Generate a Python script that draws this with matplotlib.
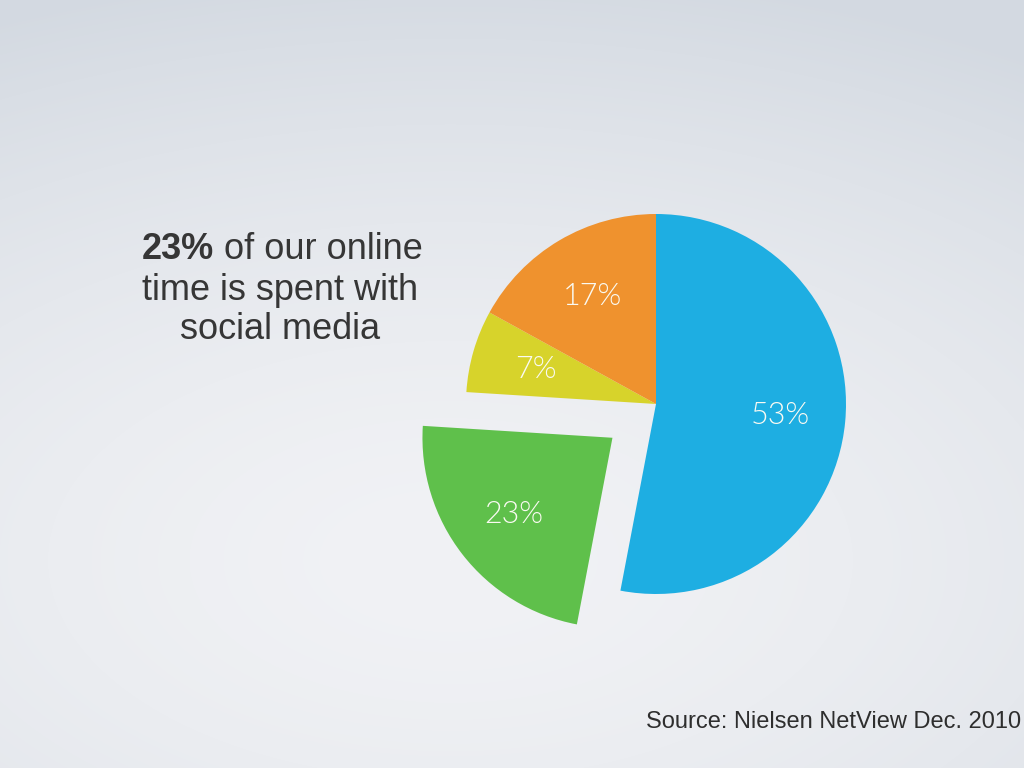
import os
import numpy as np
import matplotlib
matplotlib.use("Agg")
import matplotlib.pyplot as plt
from matplotlib import font_manager as fm

# data
categories = ["Other", "Social media", "Category C", "Category D"]
shares = [53, 23, 7, 17]
colors = ["#1eaee2", "#5fc04b", "#d7d32b", "#ef922e"]
explode = [0, 0.29, 0, 0]   # fraction of the radius


def font(fname, fallback, weight="normal", size=12):
    for f in fm.findSystemFonts():
        if os.path.basename(f).lower() == fname.lower():
            return fm.FontProperties(fname=f, size=size)
    return fm.FontProperties(family=fallback, weight=weight, size=size)


sans = font("LiberationSans-Regular.ttf", "Liberation Sans", size=26)
sans_bold = font("LiberationSans-Bold.ttf", "Liberation Sans", "bold", size=26)
sans_small = font("LiberationSans-Regular.ttf", "Liberation Sans", size=17)
light = font("Lato-Light.ttf", "Lato", "light", size=22)

W, H = 1024, 768
R = 190
fig = plt.figure(figsize=(W / 100, H / 100), dpi=100)
ax = fig.add_axes([0, 0, 1, 1])

# background: soft gradient, lightest lower-left of centre, bluish grey at the top
yy, xx = np.mgrid[0:H, 0:W]
d = np.sqrt(((xx - 450) / 1100.0) ** 2 + ((yy - 560) / 600.0) ** 2)
d = np.clip(d, 0, 1)
c0 = np.array([241, 242, 245]) / 255
c1 = np.array([211, 217, 225]) / 255
bg = c0 + (c1 - c0) * d[..., None] ** 1.6
ax.imshow(bg, extent=(0, W, 0, H), origin="upper", zorder=0, aspect="auto")

wedges, texts, autotexts = ax.pie(
    shares, colors=colors, explode=[e * R for e in explode], startangle=90,
    counterclock=False, center=(656, 364), radius=R,
    autopct=lambda p: f"{p:.0f}%", pctdistance=0.66,
    wedgeprops=dict(linewidth=0),
    textprops=dict(color="#fafaf2", fontproperties=light),
)
for w in wedges:
    w.set_zorder(2)
for t in autotexts:
    t.set_zorder(3)

ax.set_xlim(0, W)
ax.set_ylim(0, H)
ax.set_aspect("auto")
ax.axis("off")

# left caption
ink = "#363636"
bold = ax.text(142, 509, "23%", fontproperties=sans_bold, color=ink,
               ha="left", va="baseline")
ax.annotate(" of our online", xy=(1, 0), xycoords=bold, ha="left", va="bottom",
            fontproperties=sans, color=ink)
ax.text(280, 468, "time is spent with", ha="center", va="baseline",
        fontproperties=sans, color=ink)
ax.text(280, 429, "social media", ha="center", va="baseline",
        fontproperties=sans, color=ink)

ax.text(1021, 40, "Source: Nielsen NetView Dec. 2010", ha="right", va="baseline",
        fontproperties=sans_small, color="#2e2e2e")

fig.savefig("out.png", dpi=100)
